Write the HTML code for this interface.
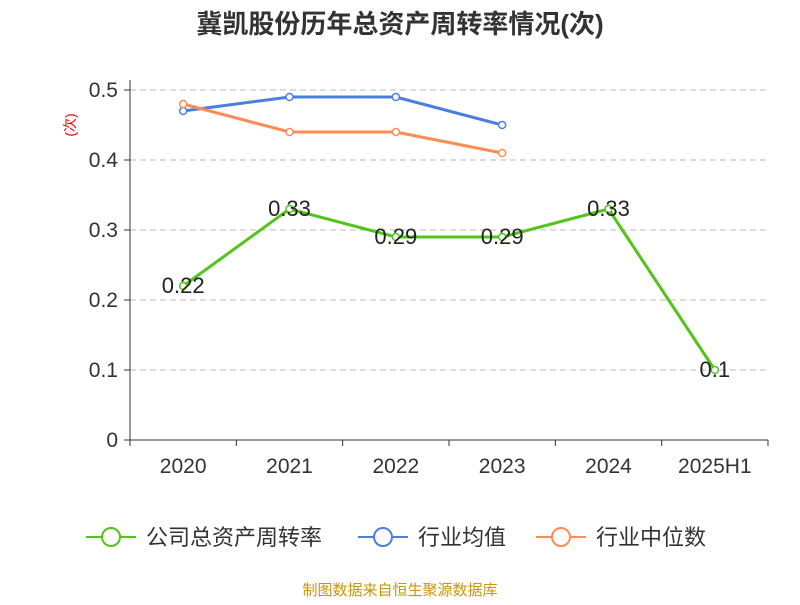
<!DOCTYPE html>
<html><head><meta charset="utf-8"><style>
body{margin:0;background:#fff;}
svg text{font-family:"Liberation Sans","Noto Sans CJK SC",sans-serif;}
</style></head><body>
<svg id="chart" width="800" height="600" xmlns="http://www.w3.org/2000/svg">
<text x="400" y="33" text-anchor="middle" font-size="26" font-weight="bold" fill="#333">冀凯股份历年总资产周转率情况(次)</text>
<text transform="translate(75,125) rotate(-90)" text-anchor="middle" font-size="14" fill="#e00">(次)</text>
<g id="grid"></g><g id="axes"></g><g id="series"></g>
<g>
<g><line x1="86" y1="537" x2="136" y2="537" stroke="#52c41a" stroke-width="2"/><circle cx="111" cy="537" r="9" fill="#fff" stroke="#52c41a" stroke-width="2"/><text x="146" y="545" font-size="22" fill="#333">公司总资产周转率</text></g>
<g><line x1="358" y1="537" x2="408" y2="537" stroke="#4a7fe0" stroke-width="2"/><circle cx="383" cy="537" r="9" fill="#fff" stroke="#4a7fe0" stroke-width="2"/><text x="418" y="545" font-size="22" fill="#333">行业均值</text></g>
<g><line x1="536" y1="537" x2="586" y2="537" stroke="#ff8c55" stroke-width="2"/><circle cx="561" cy="537" r="9" fill="#fff" stroke="#ff8c55" stroke-width="2"/><text x="596" y="545" font-size="22" fill="#333">行业中位数</text></g>
</g>
<text x="400" y="595" text-anchor="middle" font-size="15" fill="#c8960a">制图数据来自恒生聚源数据库</text>
</svg>
<script>
const categories=["2020","2021","2022","2023","2024","2025H1"];
const companyValues=[0.22,0.33,0.29,0.29,0.33,0.1];
const companyLabels=["0.22","0.33","0.29","0.29","0.33","0.1"];
const industryAvg=[0.47,0.49,0.49,0.45];
const industryMedian=[0.48,0.44,0.44,0.41];
const yTicks=[0,0.1,0.2,0.3,0.4,0.5];
const yTickLabels=["0","0.1","0.2","0.3","0.4","0.5"];
const NS="http://www.w3.org/2000/svg";
const x0=130,x1=768,yBase=440,yTop=90,yMax=0.5;
const bw=(x1-x0)/categories.length;
const xs=i=>x0+bw*(i+0.5);
const ys=v=>yBase-(v/yMax)*(yBase-yTop);
function mk(tag,attrs,parent){const e=document.createElementNS(NS,tag);for(const k in attrs)e.setAttribute(k,attrs[k]);parent.appendChild(e);return e;}
const grid=document.getElementById('grid'),axes=document.getElementById('axes'),ser=document.getElementById('series');
yTicks.forEach((t,i)=>{
 if(t>0){const g=mk('line',{x1:x0,x2:x1,y1:ys(t),y2:ys(t),stroke:'#bbb','stroke-dasharray':'6,4'},grid);
 
 }
 mk('line',{x1:x0-6,x2:x0,y1:ys(t),y2:ys(t),stroke:'#333'},axes);
 const tx=mk('text',{x:x0-12,y:ys(t)+7,'text-anchor':'end','font-size':21,fill:'#333'},axes);tx.textContent=yTickLabels[i];
 
 
});
mk('line',{x1:x0,x2:x0,y1:yTop-10,y2:yBase,stroke:'#333'},axes);
mk('line',{x1:x0,x2:x1,y1:yBase,y2:yBase,stroke:'#333'},axes);
for(let i=0;i<=categories.length;i++)mk('line',{x1:x0+bw*i,x2:x0+bw*i,y1:yBase,y2:yBase+6,stroke:'#333'},axes);
categories.forEach((c,i)=>{const t=mk('text',{x:xs(i),y:yBase+33,'text-anchor':'middle','font-size':21,fill:'#333'},axes);t.textContent=c;
 
 });
function line(vals,color,name){
 const p=mk('polyline',{points:vals.map((v,i)=>xs(i)+','+ys(v)).join(' '),fill:'none',stroke:color,'stroke-width':3},ser);
 
 
 vals.forEach((v,i)=>{const c=mk('circle',{cx:xs(i),cy:ys(v),r:3.5,fill:'#fff',stroke:color,'stroke-width':1.5},ser);
 
 });
}
line(industryAvg,'#4a7fe0','industry-avg');
line(industryMedian,'#ff8c55','industry-median');
line(companyValues,'#52c41a','company');
companyValues.forEach((v,i)=>{const t=mk('text',{x:xs(i),y:ys(v)+7,'text-anchor':'middle','font-size':22,fill:'#222'},ser);t.textContent=companyLabels[i];
 
 });
</script>
</body></html>
